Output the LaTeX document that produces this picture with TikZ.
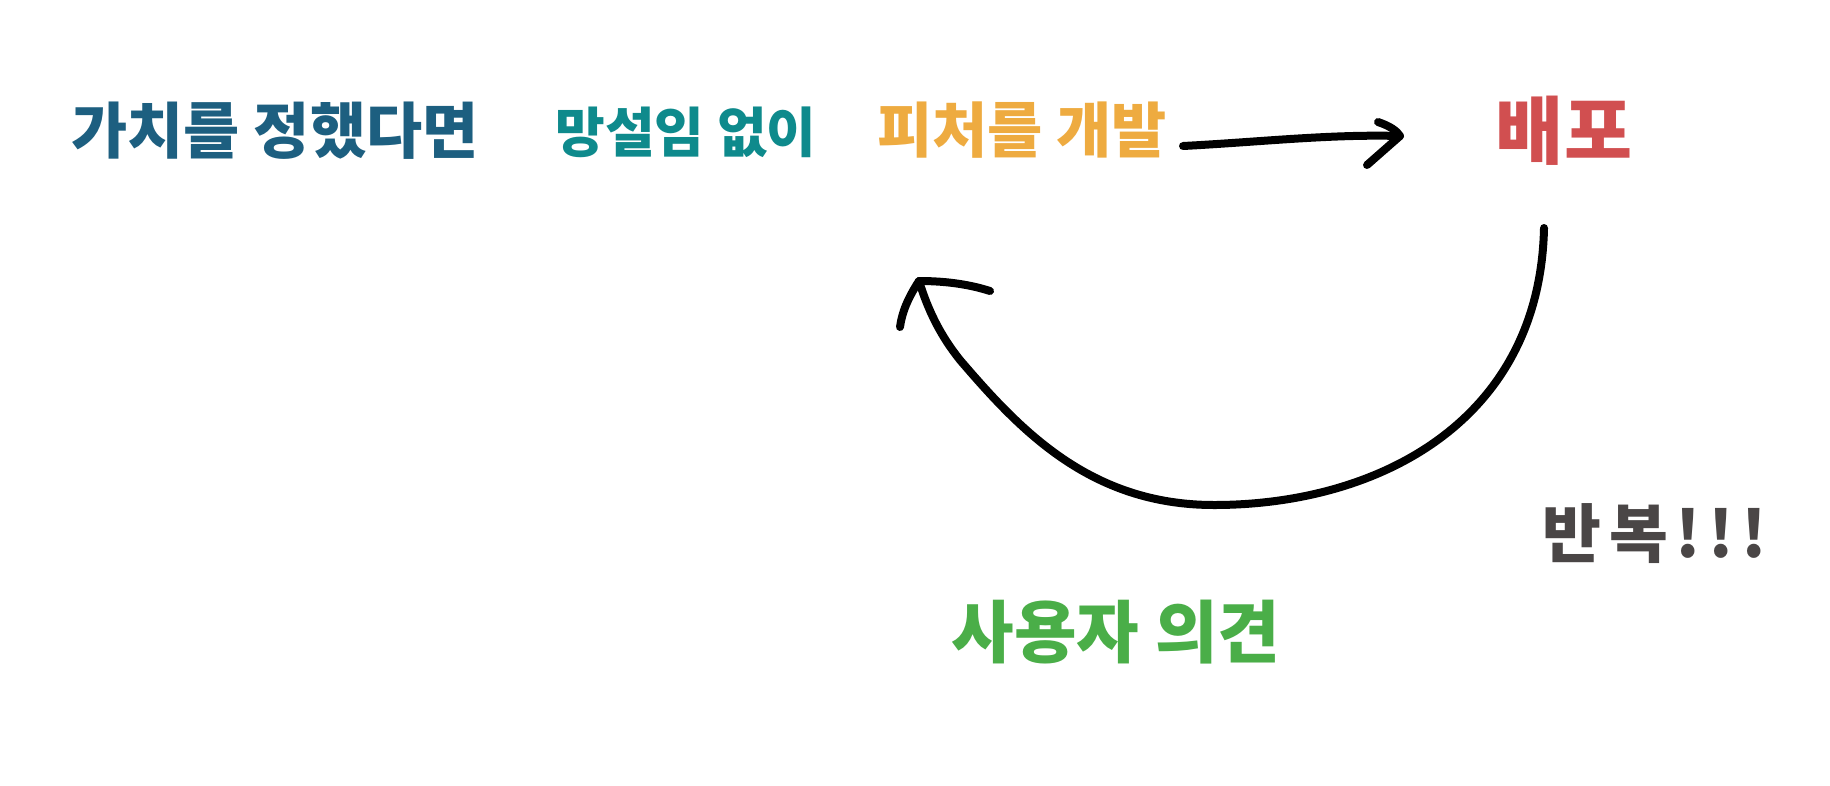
\documentclass[tikz,border=0pt]{standalone}
\usepackage{fontspec}
\newfontfamily\kr{Noto Sans CJK KR}
\definecolor{cblue}{HTML}{1D5F80}
\definecolor{cteal}{HTML}{0E8A8C}
\definecolor{corange}{HTML}{EEAB40}
\definecolor{cred}{HTML}{D14F50}
\definecolor{cgreen}{HTML}{4AAE48}
\definecolor{cgray}{HTML}{4A4646}
\tikzset{
  lbl/.style={inner sep=0pt, anchor=center},
  stroke/.style={line width=8pt, line cap=round, line join=round, black}
}
\begin{document}
\begin{tikzpicture}[x=1pt,y=-1pt]
\useasboundingbox (0,0) rectangle (1830,785);
\fill[white] (0,0) rectangle (1830,785);
\node[lbl, text=cblue, font=\kr\bfseries\fontsize{61}{70}\selectfont] (value) at (275,131) {가치를 정했다면};
\node[lbl, text=cteal, font=\kr\bfseries\fontsize{54}{62}\selectfont] (nohes) at (686,132) {망설임 없이};
\node[lbl, text=corange, font=\kr\bfseries\fontsize{60}{68}\selectfont] (dev) at (1022,130) {피처를 개발};
\node[lbl, text=cred, font=\kr\bfseries\fontsize{74}{82}\selectfont] (deploy) at (1564,131) {배포};
\node[lbl, text=cgreen, font=\kr\bfseries\fontsize{68}{76}\selectfont] (fb) at (1116,632) {사용자 의견};
\node[lbl, text=cgray, font=\kr\bfseries\fontsize{64}{72}\selectfont\addfontfeatures{LetterSpace=12}] (rep) at (1655,534) {반복!!!};
% top arrow
\coordinate (a1s) at (1183,146);
\coordinate (a1t) at (1400,136);
\draw[stroke] (a1s) .. controls (1260,142) and (1330,134) .. (a1t);
\draw[stroke] (1378,122) .. controls (1390,126) and (1397,131) .. (a1t) -- (1367,165);
% big loop arrow
\coordinate (a2s) at (1544,228);
\coordinate (a2t) at (919,281);
\draw[stroke] (a2s) .. controls (1540,420) and (1380,505) .. (1214,505)
  .. controls (1090,505) and (1020,430) .. (960,360)
  .. controls (940,335) and (928,310) .. (a2t);
\draw[stroke] (990,291) .. controls (965,283) and (940,281) .. (a2t) .. controls (908,298) and (902,312) .. (900,327);
\end{tikzpicture}
\end{document}
